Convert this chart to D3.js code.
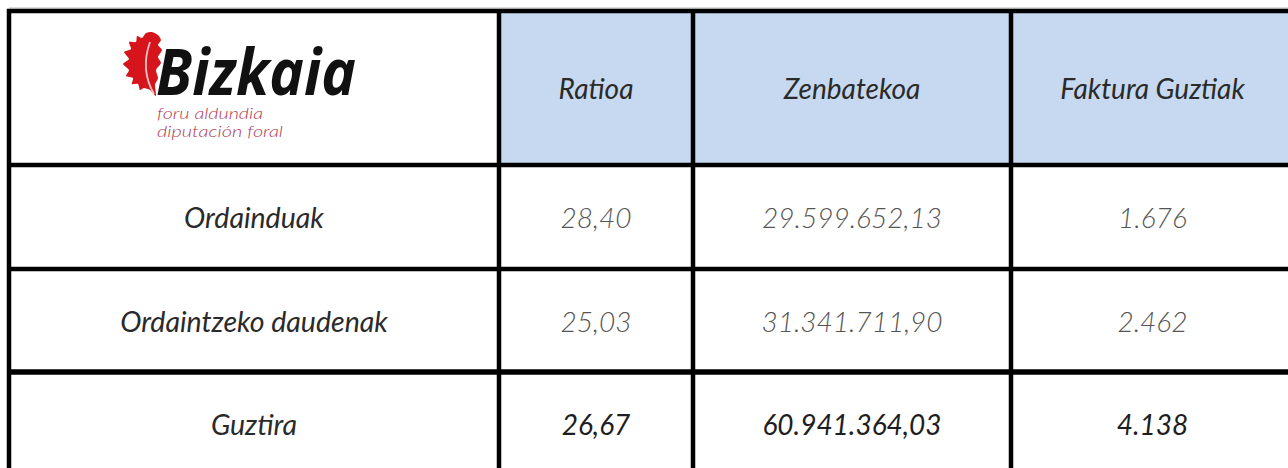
<!DOCTYPE html>
<html>
<head>
<meta charset="utf-8">
<script src="https://cdn.jsdelivr.net/npm/d3@7"></script>
<style>
  html, body { margin: 0; padding: 0; background: #fff; }
  svg { display: block; }
</style>
</head>
<body>
<div id="table-chart"></div>
<script>
const columns = ["Ratioa", "Zenbatekoa", "Faktura Guztiak"]
const rowLabels = ["Ordainduak", "Ordaintzeko daudenak", "Guztira"]
const ratioa = [28.40, 25.03, 26.67]
const zenbatekoa = [29599652.13, 31341711.90, 60941364.03]
const fakturak = [1676, 2462, 4138]

const esLocale = d3.formatLocale({ decimal: ",", thousands: ".", grouping: [3], currency: ["", " €"] })
const fmtDec = esLocale.format(",.2f")
const fmtInt = esLocale.format(",d")

function createTable() {
  const container = document.getElementById("table-chart")
  const W = 1288, H = 468

  const svg = d3.select(container)
    .append("svg")
    .attr("width", W)
    .attr("height", H)
    .attr("viewBox", `0 0 ${W} ${H}`)

  // grid layout (pixel edges of columns / rows)
  const colEdges = [9, 499, 693, 1011, 1294]
  const rowEdges = [11, 165, 269, 372, 476]
  const textY = [89, 218, 322, 425]
  const colCenter = (i) => (colEdges[i] + colEdges[i + 1]) / 2
  const font = "Lato, 'Open Sans', sans-serif"

  // header fill
  svg.selectAll(".head-cell")
    .data(columns)
    .enter()
    .append("rect")
    .attr("class", "head-cell")
    .attr("x", (d, i) => colEdges[i + 1])
    .attr("y", rowEdges[0])
    .attr("width", (d, i) => colEdges[i + 2] - colEdges[i + 1])
    .attr("height", rowEdges[1] - rowEdges[0])
    .attr("fill", "#c6d9f0")

  // faint line above the top border
  svg.append("line")
    .attr("x1", colEdges[0]).attr("x2", W)
    .attr("y1", rowEdges[0] - 3).attr("y2", rowEdges[0] - 3)
    .attr("stroke", "#bbb").attr("stroke-width", 1)

  // grid lines
  svg.selectAll(".hline")
    .data(rowEdges.slice(0, 4))
    .enter()
    .append("line")
    .attr("class", "hline")
    .attr("x1", colEdges[0] - 2)
    .attr("x2", W + 4)
    .attr("y1", (d) => d)
    .attr("y2", (d) => d)
    .attr("stroke", "#000")
    .attr("stroke-width", (d, i) => (i === 3 ? 5.5 : 4.5))

  svg.selectAll(".vline")
    .data(colEdges.slice(0, 4))
    .enter()
    .append("line")
    .attr("class", "vline")
    .attr("x1", (d) => d)
    .attr("x2", (d) => d)
    .attr("y1", rowEdges[0] - 2)
    .attr("y2", H + 4)
    .attr("stroke", "#000")
    .attr("stroke-width", 4.5)

  // header labels
  svg.selectAll(".head-text")
    .data(columns)
    .enter()
    .append("text")
    .attr("class", "head-text")
    .attr("x", (d, i) => colCenter(i + 1))
    .attr("y", textY[0])
    .attr("dy", "0.36em")
    .attr("text-anchor", "middle")
    .attr("font-family", font)
    .attr("font-style", "italic")
    .attr("font-size", "28px")
    .attr("fill", "#2a2a2a")
    .text((d) => d)

  // row labels
  svg.selectAll(".row-label")
    .data(rowLabels)
    .enter()
    .append("text")
    .attr("class", "row-label")
    .attr("x", colCenter(0))
    .attr("y", (d, i) => textY[i + 1])
    .attr("dy", "0.36em")
    .attr("text-anchor", "middle")
    .attr("font-family", font)
    .attr("font-style", "italic")
    .attr("font-size", "28.5px")
    .attr("fill", "#2a2a2a")
    .text((d) => d)

  // values
  const cells = []
  rowLabels.forEach((r, i) => {
    cells.push({ row: i, col: 1, text: fmtDec(ratioa[i]) })
    cells.push({ row: i, col: 2, text: fmtDec(zenbatekoa[i]) })
    cells.push({ row: i, col: 3, text: fmtInt(fakturak[i]) })
  })
  const lastRow = rowLabels.length - 1

  svg.selectAll(".cell")
    .data(cells)
    .enter()
    .append("text")
    .attr("class", "cell")
    .attr("x", (d) => colCenter(d.col))
    .attr("y", (d) => textY[d.row + 1])
    .attr("dy", "0.36em")
    .attr("text-anchor", "middle")
    .attr("font-family", font)
    .attr("font-style", "italic")
    .attr("font-weight", (d) => (d.row === lastRow ? 400 : 300))
    .attr("font-size", "28px")
    .attr("fill", (d) => (d.row === lastRow ? "#1e1e1e" : "#555"))
    .text((d) => d.text)

  // logo: oak leaf + wordmark
  const logo = svg.append("g").attr("class", "logo")
  const leafPts = [
    [146, 33], [152, 32], [158, 35], [161, 40], [158, 45], [162, 50], [158, 57], [161, 63],
    [156, 70], [158, 78], [155, 85], [156, 96], [150, 90], [144, 88], [140, 90], [138, 84],
    [132, 84], [133, 78], [126, 76], [129, 70], [123, 64], [129, 59], [124, 52], [131, 49],
    [129, 42], [136, 42], [137, 36], [142, 38]
  ]
  logo.append("path")
    .attr("d", d3.line().curve(d3.curveCardinalClosed.tension(0.4))(leafPts))
    .attr("fill", "#d6141c")
  logo.append("path")
    .attr("d", "M154,94 Q140,70 150,42")
    .attr("fill", "none")
    .attr("stroke", "#f4c4c4")
    .attr("stroke-width", 1.8)

  logo.append("text")
    .attr("x", 156)
    .attr("y", 95)
    .attr("font-family", "'Open Sans', Roboto, sans-serif")
    .attr("font-weight", 700)
    .attr("font-style", "italic")
    .attr("font-size", "64px")
    .attr("textLength", 200)
    .attr("lengthAdjust", "spacingAndGlyphs")
    .attr("fill", "#111")
    .text("Bizkaia")

  logo.append("text")
    .attr("x", 157)
    .attr("y", 119)
    .attr("font-family", font)
    .attr("font-weight", 300)
    .attr("font-style", "italic")
    .attr("font-size", "16px")
    .attr("textLength", 106)
    .attr("lengthAdjust", "spacingAndGlyphs")
    .attr("fill", "#b03a52")
    .text("foru aldundia")

  logo.append("text")
    .attr("x", 157)
    .attr("y", 137)
    .attr("font-family", font)
    .attr("font-weight", 300)
    .attr("font-style", "italic")
    .attr("font-size", "16px")
    .attr("textLength", 126)
    .attr("lengthAdjust", "spacingAndGlyphs")
    .attr("fill", "#b03a52")
    .text("diputación foral")
}

createTable()
</script>
</body>
</html>
